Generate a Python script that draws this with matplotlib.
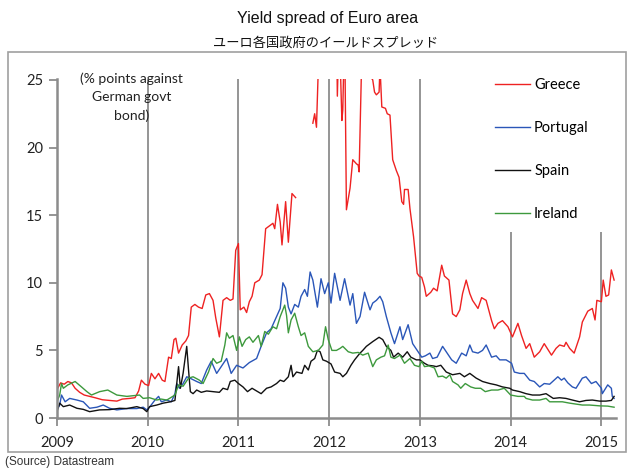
import numpy as np
import matplotlib.pyplot as plt
from matplotlib.patches import Rectangle

# spread vs German govt bond, % points
greece_t = [2009.00, 2009.04, 2009.08, 2009.12, 2009.16, 2009.20, 2009.25, 2009.30, 2009.36, 2009.42,
            2009.50, 2009.58, 2009.66, 2009.72, 2009.80, 2009.86, 2009.90, 2009.93, 2009.97, 2010.01,
            2010.04, 2010.08, 2010.12, 2010.16, 2010.19, 2010.23, 2010.26, 2010.29, 2010.31, 2010.34,
            2010.38, 2010.42, 2010.45, 2010.48, 2010.52, 2010.56, 2010.60, 2010.64, 2010.68, 2010.72,
            2010.75, 2010.79, 2010.83, 2010.87, 2010.91, 2010.94, 2010.97, 2011.00, 2011.02, 2011.06,
            2011.09, 2011.12, 2011.15, 2011.18, 2011.23, 2011.26, 2011.30, 2011.34, 2011.38, 2011.40,
            2011.43, 2011.46, 2011.48, 2011.52, 2011.55, 2011.59, 2011.63, 2011.70, 2011.82, 2011.84,
            2011.86, 2011.89, 2011.95, 2012.02, 2012.08, 2012.09, 2012.11, 2012.14, 2012.15, 2012.17,
            2012.19, 2012.23, 2012.26, 2012.30, 2012.32, 2012.33, 2012.36, 2012.40, 2012.44, 2012.46,
            2012.48, 2012.50, 2012.52, 2012.55, 2012.56, 2012.58, 2012.62, 2012.64, 2012.67, 2012.70,
            2012.74, 2012.77, 2012.80, 2012.82, 2012.83, 2012.87, 2012.89, 2012.93, 2012.97, 2012.99,
            2013.02, 2013.05, 2013.07, 2013.12, 2013.15, 2013.19, 2013.24, 2013.27, 2013.32, 2013.36,
            2013.40, 2013.44, 2013.47, 2013.51, 2013.55, 2013.58, 2013.64, 2013.68, 2013.73, 2013.79,
            2013.82, 2013.86, 2013.91, 2013.97, 2014.02, 2014.08, 2014.12, 2014.17, 2014.21, 2014.26,
            2014.32, 2014.37, 2014.45, 2014.50, 2014.54, 2014.59, 2014.61, 2014.65, 2014.70, 2014.76,
            2014.79, 2014.85, 2014.90, 2014.93, 2014.95, 2015.00, 2015.02, 2015.05, 2015.08, 2015.11,
            2015.14]
greece = [2.1, 2.6, 2.5, 2.7, 2.6, 2.2, 1.9, 1.7, 1.6, 1.5,
          1.35, 1.3, 1.25, 1.4, 1.45, 1.5, 2.0, 2.8, 2.5, 2.4,
          3.3, 2.9, 3.3, 2.8, 2.7, 4.5, 4.4, 5.8, 5.9, 4.8,
          5.4, 5.7, 6.1, 8.2, 8.4, 8.2, 8.1, 9.1, 9.2, 8.7,
          7.4, 6.0, 8.7, 8.9, 8.7, 8.8, 12.4, 12.9, 8.0, 8.2,
          7.8, 8.6, 9.0, 10.0, 10.2, 10.6, 14.0, 14.2, 14.4, 14.0,
          15.8, 14.5, 12.8, 16.0, 13.0, 16.6, 16.3, np.nan, 21.8, 22.5,
          21.5, 28.0, 32.0, 33.0, 30.0, 23.8, 29.0, 22.0, 22.8, 29.0,
          15.4, 17.0, 19.1, 18.8, 18.7, 18.2, 27.0, 30.0, 28.0, 25.2,
          25.0, 24.1, 23.9, 24.1, 26.0, 23.0, 22.9, 22.5, 22.4, 19.1,
          18.3, 17.8, 16.0, 15.8, 16.9, 16.9, 15.5, 13.4, 10.7, 10.5,
          10.4, 9.7, 9.0, 9.3, 9.6, 9.4, 11.3, 10.5, 10.2, 7.7,
          7.5, 8.0, 9.2, 10.2, 9.2, 8.7, 8.1, 8.9, 8.7, 7.2,
          6.6, 7.0, 7.2, 6.75, 6.0, 7.0, 6.1, 5.15, 5.5, 4.5,
          4.9, 5.5, 4.65, 5.15, 5.4, 5.3, 5.6, 5.15, 4.8, 6.0,
          7.1, 7.9, 8.1, 7.25, 8.7, 8.6, 10.2, 9.0, 9.1, 10.95,
          10.2]

portugal_t = [2009.00, 2009.03, 2009.05, 2009.09, 2009.14, 2009.22, 2009.29, 2009.36, 2009.44, 2009.51,
              2009.58, 2009.66, 2009.77, 2009.88, 2009.95, 2009.99, 2010.02, 2010.08, 2010.12, 2010.15,
              2010.21, 2010.26, 2010.30, 2010.32, 2010.35, 2010.39, 2010.43, 2010.48, 2010.54, 2010.59,
              2010.65, 2010.70, 2010.76, 2010.81, 2010.87, 2010.92, 2010.98, 2011.05, 2011.12, 2011.20,
              2011.25, 2011.31, 2011.36, 2011.42, 2011.46, 2011.49, 2011.52, 2011.55, 2011.58, 2011.62,
              2011.66, 2011.69, 2011.73, 2011.76, 2011.79, 2011.82, 2011.87, 2011.91, 2011.95, 2011.99,
              2012.02, 2012.06, 2012.12, 2012.17, 2012.23, 2012.26, 2012.30, 2012.34, 2012.39, 2012.45,
              2012.48, 2012.52, 2012.56, 2012.59, 2012.63, 2012.68, 2012.72, 2012.78, 2012.81, 2012.87,
              2012.92, 2012.98, 2013.02, 2013.06, 2013.11, 2013.14, 2013.19, 2013.25, 2013.29, 2013.35,
              2013.40, 2013.46, 2013.51, 2013.55, 2013.58, 2013.64, 2013.69, 2013.73, 2013.79, 2013.84,
              2013.88, 2013.95, 2014.01, 2014.04, 2014.10, 2014.15, 2014.21, 2014.26, 2014.32, 2014.37,
              2014.43, 2014.52, 2014.56, 2014.59, 2014.63, 2014.68, 2014.72, 2014.79, 2014.83, 2014.89,
              2014.94, 2015.00, 2015.01, 2015.07, 2015.11, 2015.12, 2015.14]
portugal = [0.6, 0.96, 1.7, 1.2, 1.45, 1.33, 1.2, 0.72, 0.8, 0.96,
            0.72, 0.6, 0.7, 0.7, 0.8, 0.6, 0.8, 1.33, 1.6, 1.2,
            1.33, 1.2, 1.8, 2.55, 2.2, 2.55, 3.05, 2.9, 2.7, 2.55,
            3.55, 4.2, 3.3, 3.8, 4.4, 3.3, 3.9, 3.7, 4.1, 4.4,
            5.3, 6.3, 6.6, 7.5, 8.1, 10.0, 9.6, 8.2, 7.7, 8.4,
            8.2, 9.0, 9.5, 9.0, 10.8, 10.2, 8.2, 10.3, 9.2, 10.0,
            8.5, 10.7, 8.7, 10.3, 8.35, 9.2, 7.0, 7.5, 9.3, 8.0,
            8.5, 8.7, 9.0, 8.6, 7.5, 6.3, 5.5, 6.75, 5.8, 6.9,
            5.5, 4.9, 4.5, 4.6, 4.8, 4.4, 4.5, 5.3, 4.9, 4.3,
            4.05, 4.8, 4.6, 5.4, 4.9, 4.8, 5.0, 5.4, 4.5, 4.6,
            4.3, 4.3, 4.05, 3.4, 3.3, 3.3, 2.8, 2.7, 2.3, 2.55,
            2.5, 3.05, 2.8, 2.95, 2.6, 2.3, 2.2, 2.95, 3.05, 2.55,
            2.7, 2.2, 1.8, 2.45, 2.2, 1.6, 1.45]

spain_t = [2009.00, 2009.03, 2009.07, 2009.14, 2009.22, 2009.29, 2009.36, 2009.47, 2009.58, 2009.69,
           2009.77, 2009.88, 2009.95, 2009.99, 2010.02, 2010.10, 2010.17, 2010.25, 2010.30, 2010.34,
           2010.36, 2010.39, 2010.43, 2010.45, 2010.47, 2010.50, 2010.54, 2010.59, 2010.65, 2010.72,
           2010.79, 2010.83, 2010.88, 2010.91, 2010.96, 2011.00, 2011.05, 2011.10, 2011.15, 2011.20,
           2011.25, 2011.31, 2011.36, 2011.42, 2011.46, 2011.50, 2011.55, 2011.58, 2011.60, 2011.64,
           2011.70, 2011.73, 2011.77, 2011.80, 2011.84, 2011.87, 2011.90, 2011.93, 2011.97, 2012.02,
           2012.06, 2012.12, 2012.15, 2012.19, 2012.24, 2012.28, 2012.34, 2012.37, 2012.41, 2012.45,
           2012.48, 2012.55, 2012.59, 2012.63, 2012.68, 2012.71, 2012.76, 2012.81, 2012.86, 2012.90,
           2012.96, 2013.00, 2013.05, 2013.09, 2013.15, 2013.18, 2013.23, 2013.29, 2013.36, 2013.44,
           2013.49, 2013.55, 2013.62, 2013.69, 2013.77, 2013.84, 2013.91, 2013.99, 2014.02, 2014.10,
           2014.17, 2014.24, 2014.32, 2014.39, 2014.47, 2014.54, 2014.61, 2014.68, 2014.76, 2014.83,
           2014.90, 2014.98, 2015.05, 2015.11, 2015.14]
spain = [0.47, 1.1, 0.84, 0.96, 0.72, 0.64, 0.47, 0.6, 0.62, 0.72,
         0.7, 0.84, 0.7, 0.47, 0.84, 0.96, 1.1, 1.2, 1.3, 3.8,
         2.2, 3.3, 5.3, 3.55, 1.95, 1.8, 2.07, 1.9, 2.0, 1.95,
         1.9, 2.2, 2.1, 2.7, 2.8, 2.55, 2.3, 1.95, 2.2, 2.0,
         1.8, 2.2, 2.3, 2.55, 2.8, 2.7, 3.05, 3.9, 3.05, 3.4,
         3.3, 3.9, 3.55, 4.2, 4.4, 5.0, 4.9, 4.3, 4.2, 4.0,
         3.4, 3.3, 3.05, 3.3, 3.9, 4.3, 4.8, 5.0, 5.3, 5.5,
         5.65, 5.97, 5.8, 5.3, 5.0, 4.5, 4.8, 4.5, 4.9, 4.5,
         4.3, 4.3, 4.05, 3.9, 3.85, 3.8, 3.9, 3.4, 3.2, 3.3,
         3.05, 3.3, 2.95, 2.7, 2.55, 2.45, 2.3, 2.2, 2.07, 1.95,
         1.8, 1.7, 1.7, 1.8, 1.45, 1.5, 1.45, 1.33, 1.2, 1.3,
         1.33, 1.25, 1.25, 1.3, 1.6]

ireland_t = [2009.00, 2009.03, 2009.05, 2009.07, 2009.12, 2009.20, 2009.27, 2009.33, 2009.38, 2009.47,
             2009.56, 2009.66, 2009.77, 2009.84, 2009.91, 2009.95, 2010.02, 2010.10, 2010.15, 2010.21,
             2010.24, 2010.30, 2010.34, 2010.39, 2010.45, 2010.50, 2010.57, 2010.61, 2010.67, 2010.72,
             2010.76, 2010.81, 2010.85, 2010.87, 2010.90, 2010.94, 2010.98, 2011.01, 2011.04, 2011.08,
             2011.12, 2011.16, 2011.22, 2011.25, 2011.29, 2011.33, 2011.38, 2011.42, 2011.46, 2011.51,
             2011.53, 2011.55, 2011.58, 2011.62, 2011.66, 2011.69, 2011.73, 2011.77, 2011.82, 2011.88,
             2011.93, 2011.96, 2011.99, 2012.03, 2012.08, 2012.12, 2012.15, 2012.21, 2012.26, 2012.32,
             2012.37, 2012.43, 2012.48, 2012.52, 2012.57, 2012.61, 2012.65, 2012.68, 2012.72, 2012.78,
             2012.83, 2012.89, 2012.94, 2012.99, 2013.02, 2013.05, 2013.10, 2013.16, 2013.20, 2013.25,
             2013.29, 2013.33, 2013.36, 2013.42, 2013.45, 2013.50, 2013.56, 2013.61, 2013.67, 2013.72,
             2013.79, 2013.86, 2013.93, 2014.00, 2014.08, 2014.15, 2014.17, 2014.24, 2014.32, 2014.39,
             2014.43, 2014.50, 2014.57, 2014.65, 2014.72, 2014.79, 2014.87, 2014.98, 2015.07, 2015.14]
ireland = [1.2, 1.7, 2.55, 2.2, 2.45, 2.7, 2.3, 1.95, 1.7, 1.95,
           2.07, 1.7, 1.6, 1.65, 1.7, 1.45, 1.5, 1.33, 1.4, 1.33,
           1.45, 1.7, 2.45, 2.35, 2.95, 3.05, 2.8, 2.55, 3.4, 4.4,
           4.05, 4.2, 5.4, 6.3, 5.9, 6.1, 5.0, 6.0, 5.3, 5.8,
           6.0, 5.6, 6.1, 5.3, 6.4, 6.2, 6.75, 6.6, 7.5, 8.35,
           7.6, 6.3, 7.25, 7.75, 6.75, 6.1, 6.3, 5.3, 4.9, 5.0,
           5.4, 6.75, 5.8, 5.0, 5.0, 5.15, 5.3, 4.9, 4.8, 4.85,
           4.65, 4.8, 3.8, 4.3, 4.5, 4.6, 5.4, 4.5, 4.4, 4.65,
           4.05, 4.4, 3.9, 3.8, 4.2, 3.8, 3.85, 3.7, 3.05, 3.1,
           2.95, 3.2, 2.7, 2.45, 2.2, 2.55, 2.3, 2.2, 2.2, 1.95,
           2.07, 2.07, 2.2, 1.7, 1.6, 1.6, 1.45, 1.33, 1.33, 1.45,
           1.2, 1.2, 1.2, 1.1, 1.03, 0.96, 0.96, 0.9, 0.88, 0.8]

years = [2009, 2010, 2011, 2012, 2013, 2014, 2015]
yticks = [0, 5, 10, 15, 20, 25]

grey = '#8c8c8c'
lab_font = 'Lato'

fig = plt.figure(figsize=(6.33, 4.70), dpi=100)
ax = fig.add_axes([0.090, 0.1106, 0.883, 0.7222])

ax.plot(greece_t, greece, color='#ee2222', lw=1.0, label='Greece')
ax.plot(portugal_t, portugal, color='#2a56b8', lw=1.0, label='Portugal')
ax.plot(spain_t, spain, color='#111111', lw=1.0, label='Spain')
ax.plot(ireland_t, ireland, color='#3d993d', lw=1.0, label='Ireland')

ax.set_xlim(2009, 2015.16)
ax.set_ylim(0, 25.1)
ax.set_xticks(years)
ax.set_xticklabels([str(y) for y in years], fontfamily=lab_font, fontsize=10.5)
ax.set_yticks(yticks)
ax.set_yticklabels([str(v) for v in yticks], fontfamily=lab_font, fontsize=10.5)
ax.tick_params(axis='both', colors=grey, labelcolor='#222222', length=6, width=1.3, pad=4)
ax.tick_params(axis='x', pad=7)

ax.grid(axis='x', color=grey, lw=1.3)
ax.set_axisbelow(True)
for s in ['top', 'right']:
    ax.spines[s].set_visible(False)
for s in ['left', 'bottom']:
    ax.spines[s].set_color(grey)
    ax.spines[s].set_linewidth(1.8)

# white legend area (hides the upper part of the gridlines like the original)
ax.add_patch(Rectangle((0.757, 0.548), 0.3, 0.5, transform=ax.transAxes,
                       facecolor='white', edgecolor='none', zorder=1.5, clip_on=False))
ax.legend(loc='upper left', bbox_to_anchor=(0.774, 1.02), frameon=False,
          prop={'family': lab_font, 'size': 10.5}, labelspacing=2.0,
          handlelength=2.4, handletextpad=0.25, borderaxespad=0)

ax.text(0.133, 0.946, '(% points against\nGerman govt\nbond)', transform=ax.transAxes,
        ha='center', va='center', fontfamily=lab_font, fontsize=10, color='#222222',
        linespacing=1.6, clip_on=False)

fig.text(0.518, 0.960, 'Yield spread of Euro area', ha='center', va='center',
         fontfamily='Liberation Sans', fontsize=11.5, color='#111111')
fig.text(0.515, 0.908, 'ユーロ各国政府のイールドスプレッド', ha='center', va='center',
         fontfamily=['Noto Sans CJK JP', 'DejaVu Sans'], fontsize=9.5, color='#111111')
fig.text(0.008, 0.016, '(Source) Datastream', ha='left', va='center',
         fontfamily='Liberation Sans', fontsize=8.5, color='#333333')

# chart frame
fig.add_artist(Rectangle((8 / 633, 18 / 470), 618 / 633, 400 / 470, transform=fig.transFigure,
                         facecolor='none', edgecolor='#a0a0a0', lw=1.2))

fig.savefig('out.png', dpi=100)
